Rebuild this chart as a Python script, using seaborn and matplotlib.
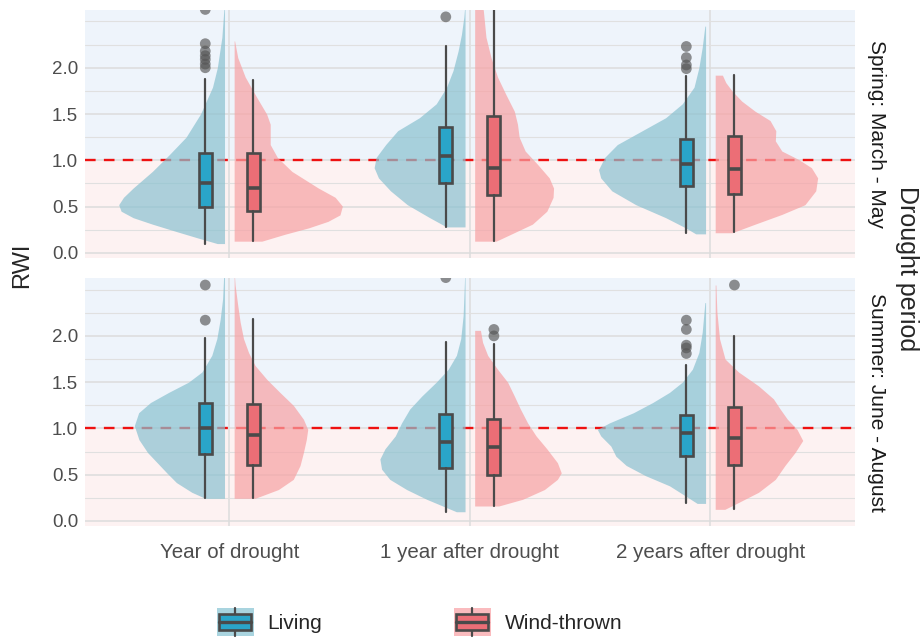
import matplotlib
matplotlib.use("Agg")
import numpy as np
import pandas as pd
import matplotlib.pyplot as plt
from matplotlib.legend_handler import HandlerBase
from matplotlib.patches import Rectangle
from matplotlib.lines import Line2D
import seaborn as sns

# ---- data ----
periods = ["Spring: March - May", "Summer: June - August"]
times = ["Year of drought", "1 year after drought", "2 years after drought"]
statuses = ["Living", "Wind-thrown"]

# box statistics, order: period -> time -> status
whisker_lo = [0.10, 0.13, 0.28, 0.13, 0.21, 0.22,
              0.25, 0.25, 0.10, 0.16, 0.19, 0.13]
q1 = [0.50, 0.45, 0.76, 0.63, 0.72, 0.64,
      0.72, 0.61, 0.57, 0.50, 0.70, 0.61]
median = [0.75, 0.70, 1.05, 0.92, 0.96, 0.91,
          1.01, 0.93, 0.85, 0.80, 0.95, 0.90]
q3 = [1.08, 1.08, 1.36, 1.48, 1.23, 1.26,
      1.27, 1.26, 1.16, 1.10, 1.14, 1.23]
whisker_hi = [1.88, 1.87, 2.23, 2.75, 1.91, 1.92,
              1.98, 2.18, 1.93, 1.91, 1.69, 2.00]
outliers = [[2.00, 2.04, 2.09, 2.13, 2.18, 2.26, 2.63], [],
            [2.55], [],
            [1.99, 2.03, 2.11, 2.23], [],
            [2.17, 2.55], [],
            [2.63], [2.00, 2.07],
            [1.81, 1.87, 1.90, 2.07, 2.17], [2.55]]

# violin outlines (RWI level, half width in category units)
spring_y0_living_rwi = [0.10, 0.16, 0.23, 0.31, 0.38, 0.45, 0.52, 0.60, 0.70, 0.88, 1.06, 1.25, 1.50, 1.79, 2.00, 2.33, 2.62, 2.66]
spring_y0_living_half = [0.03, 0.11, 0.20, 0.30, 0.38, 0.43, 0.44, 0.42, 0.38, 0.30, 0.23, 0.16, 0.10, 0.05, 0.03, 0.011, 0.003, 0.0]
spring_y0_wind_rwi = [0.126, 0.20, 0.27, 0.34, 0.41, 0.505, 0.60, 0.70, 0.88, 1.03, 1.17, 1.28, 1.39, 1.50, 1.68, 1.90, 2.11, 2.29]
spring_y0_wind_half = [0.115, 0.21, 0.31, 0.39, 0.44, 0.45, 0.42, 0.35, 0.24, 0.18, 0.15, 0.15, 0.15, 0.135, 0.094, 0.046, 0.015, 0.002]
spring_y1_living_rwi = [0.28, 0.38, 0.52, 0.67, 0.81, 0.92, 1.03, 1.17, 1.32, 1.46, 1.61, 1.79, 1.97, 2.18, 2.36, 2.55, 2.70]
spring_y1_living_half = [0.077, 0.147, 0.24, 0.31, 0.36, 0.378, 0.37, 0.33, 0.28, 0.19, 0.12, 0.077, 0.05, 0.029, 0.015, 0.005, 0.0]
spring_y1_wind_rwi = [0.126, 0.20, 0.31, 0.45, 0.60, 0.70, 0.81, 0.96, 1.10, 1.25, 1.39, 1.53, 1.71, 1.90, 2.11, 2.33, 2.62, 2.80, 3.00]
spring_y1_wind_half = [0.089, 0.15, 0.24, 0.30, 0.326, 0.328, 0.31, 0.26, 0.21, 0.185, 0.178, 0.165, 0.13, 0.095, 0.068, 0.047, 0.036, 0.02, 0.0]
spring_y2_living_rwi = [0.205, 0.27, 0.38, 0.52, 0.67, 0.81, 0.90, 1.03, 1.17, 1.32, 1.46, 1.61, 1.79, 2.00, 2.22, 2.45]
spring_y2_living_half = [0.041, 0.083, 0.166, 0.29, 0.39, 0.436, 0.445, 0.42, 0.367, 0.263, 0.166, 0.097, 0.048, 0.028, 0.014, 0.003]
spring_y2_wind_rwi = [0.217, 0.31, 0.415, 0.52, 0.67, 0.81, 0.92, 1.01, 1.10, 1.21, 1.32, 1.43, 1.53, 1.64, 1.75, 1.84, 1.92]
spring_y2_wind_half = [0.07, 0.166, 0.277, 0.373, 0.418, 0.426, 0.40, 0.346, 0.277, 0.25, 0.252, 0.228, 0.166, 0.11, 0.07, 0.044, 0.03]
summer_y0_living_rwi = [0.245, 0.31, 0.415, 0.52, 0.63, 0.74, 0.88, 1.03, 1.17, 1.28, 1.39, 1.50, 1.61, 1.79, 1.97, 2.18, 2.40, 2.62, 2.70]
summer_y0_living_half = [0.08, 0.136, 0.20, 0.24, 0.28, 0.32, 0.356, 0.375, 0.357, 0.308, 0.232, 0.15, 0.094, 0.053, 0.032, 0.018, 0.008, 0.004, 0.0]
summer_y0_wind_rwi = [0.245, 0.34, 0.45, 0.60, 0.74, 0.88, 0.99, 1.10, 1.25, 1.39, 1.53, 1.68, 1.82, 1.97, 2.15, 2.33, 2.55, 2.70]
summer_y0_wind_half = [0.087, 0.184, 0.246, 0.274, 0.288, 0.30, 0.306, 0.288, 0.246, 0.19, 0.136, 0.087, 0.06, 0.039, 0.025, 0.015, 0.004, 0.0]
summer_y1_living_rwi = [0.10, 0.16, 0.235, 0.34, 0.45, 0.56, 0.67, 0.78, 0.92, 1.06, 1.21, 1.35, 1.50, 1.64, 1.79, 1.97, 2.22, 2.62, 2.70]
summer_y1_living_half = [0.036, 0.091, 0.16, 0.243, 0.313, 0.347, 0.354, 0.333, 0.29, 0.264, 0.23, 0.18, 0.12, 0.07, 0.036, 0.018, 0.008, 0.002, 0.0]
summer_y1_wind_rwi = [0.162, 0.235, 0.34, 0.45, 0.52, 0.63, 0.78, 0.92, 1.06, 1.21, 1.35, 1.50, 1.64, 1.79, 1.93, 2.06]
summer_y1_wind_half = [0.10, 0.20, 0.29, 0.344, 0.36, 0.344, 0.30, 0.255, 0.22, 0.19, 0.165, 0.137, 0.095, 0.054, 0.033, 0.024]
summer_y2_living_rwi = [0.19, 0.27, 0.38, 0.49, 0.60, 0.70, 0.81, 0.92, 0.99, 1.06, 1.17, 1.28, 1.39, 1.50, 1.64, 1.82, 2.04, 2.36]
summer_y2_living_half = [0.035, 0.083, 0.15, 0.25, 0.33, 0.373, 0.394, 0.436, 0.45, 0.40, 0.30, 0.22, 0.15, 0.097, 0.055, 0.028, 0.014, 0.003]
summer_y2_wind_rwi = [0.126, 0.20, 0.31, 0.45, 0.60, 0.74, 0.87, 0.99, 1.10, 1.21, 1.32, 1.46, 1.61, 1.75, 1.97, 2.26, 2.55]
summer_y2_wind_half = [0.04, 0.097, 0.18, 0.25, 0.29, 0.332, 0.364, 0.34, 0.30, 0.27, 0.242, 0.18, 0.097, 0.041, 0.018, 0.007, 0.003]

violins = [
    (spring_y0_living_rwi, spring_y0_living_half), (spring_y0_wind_rwi, spring_y0_wind_half),
    (spring_y1_living_rwi, spring_y1_living_half), (spring_y1_wind_rwi, spring_y1_wind_half),
    (spring_y2_living_rwi, spring_y2_living_half), (spring_y2_wind_rwi, spring_y2_wind_half),
    (summer_y0_living_rwi, summer_y0_living_half), (summer_y0_wind_rwi, summer_y0_wind_half),
    (summer_y1_living_rwi, summer_y1_living_half), (summer_y1_wind_rwi, summer_y1_wind_half),
    (summer_y2_living_rwi, summer_y2_living_half), (summer_y2_wind_rwi, summer_y2_wind_half),
]

# ---- styling ----
violin_col = {"Living": "#8ac1d0", "Wind-thrown": "#f7a1a3"}
box_col = {"Living": "#2aa5c9", "Wind-thrown": "#ec6e76"}
key_bg = {"Living": "#a9d4df", "Wind-thrown": "#fabbbe"}
edge = "#4a4a4a"
sign = {"Living": -1, "Wind-thrown": 1}

sns.set_theme(style="whitegrid")
plt.rcParams["font.family"] = ["Liberation Sans", "DejaVu Sans"]

# long table of groups
rows = []
k = 0
for p in periods:
    for ti, t in enumerate(times):
        for s in statuses:
            rows.append(dict(period=p, time=t, tpos=ti, status=s, idx=k))
            k += 1
groups = pd.DataFrame(rows)

out_rows = []
for _, g in groups.iterrows():
    for v in outliers[g.idx]:
        out_rows.append(dict(period=g.period, status=g.status,
                             xpos=g.tpos + sign[g.status] * 0.1, rwi=v))
out_df = pd.DataFrame(out_rows)

fig = plt.figure(figsize=(9.24, 6.4), dpi=100)
axes = [fig.add_axes([0.092, 0.597, 0.833, 0.3875]),
        fig.add_axes([0.092, 0.178, 0.833, 0.3875])]

for ax, p in zip(axes, periods):
    ax.set_facecolor("white")
    ax.axhspan(1.0, 5, color="#eef4fb", zorder=0, lw=0)
    ax.axhspan(-1, 1.0, color="#fdf2f2", zorder=0, lw=0)
    ax.axhline(1.0, color="#ee1111", lw=1.7, ls=(0, (4.5, 3.5)), zorder=1)

    sub = groups[groups.period == p]
    stats, pos, faces = [], [], []
    for _, g in sub.iterrows():
        rwi, half = violins[g.idx]
        rwi = np.asarray(rwi)
        half = np.asarray(half)
        if g.status == "Living":
            ax.fill_betweenx(rwi, g.tpos - 0.02 - half, g.tpos - 0.02,
                             color=violin_col[g.status], alpha=0.7, lw=0, zorder=2)
        else:
            ax.fill_betweenx(rwi, g.tpos + 0.02, g.tpos + 0.02 + half,
                             color=violin_col[g.status], alpha=0.7, lw=0, zorder=2)
        stats.append(dict(whislo=whisker_lo[g.idx], q1=q1[g.idx], med=median[g.idx],
                          q3=q3[g.idx], whishi=whisker_hi[g.idx], fliers=[]))
        pos.append(g.tpos + sign[g.status] * 0.1)
        faces.append(box_col[g.status])

    bp = ax.bxp(stats, positions=pos, widths=0.054, patch_artist=True,
                showfliers=False, showcaps=False, manage_ticks=False,
                boxprops=dict(edgecolor=edge, lw=1.9),
                whiskerprops=dict(color=edge, lw=1.6),
                medianprops=dict(color=edge, lw=2.6, solid_capstyle="butt"),
                zorder=3)
    for patch, fc in zip(bp["boxes"], faces):
        patch.set_facecolor(fc)

    sns.scatterplot(data=out_df[out_df.period == p], x="xpos", y="rwi",
                    color="#555555", alpha=0.65, s=60, edgecolor="none",
                    legend=False, ax=ax, zorder=4)

    ax.set_xlim(-0.6, 2.6)
    ax.set_ylim(-0.055, 2.625)
    ax.set_xticks(range(len(times)))
    ax.set_yticks([0, 0.5, 1.0, 1.5, 2.0])
    ax.set_yticks([0.25, 0.75, 1.25, 1.75, 2.25, 2.5], minor=True)
    ax.set_yticklabels(["0.0", "0.5", "1.0", "1.5", "2.0"])
    ax.grid(True, which="major", color="#dcdcdc", lw=1.1)
    ax.grid(True, which="minor", axis="y", color="#e0e0e0", lw=0.8)
    ax.set_axisbelow(True)
    ax.tick_params(axis="y", length=0, labelsize=13.5, labelcolor="#4d4d4d", pad=5)
    ax.tick_params(axis="x", length=0, labelsize=14.8, labelcolor="#4d4d4d", pad=12)
    ax.set_xlabel("")
    ax.set_ylabel("")
    for sp in ax.spines.values():
        sp.set_visible(False)
    ax.text(1.016, 0.5, p, transform=ax.transAxes, rotation=-90,
            ha="left", va="center", fontsize=15, color="#1a1a1a")

axes[0].set_xticklabels([])
axes[1].set_xticklabels(times)

fig.text(0.024, 0.585, "RWI", rotation=90, ha="center", va="center", fontsize=17)
fig.text(0.982, 0.58, "Drought period", rotation=-90, ha="center", va="center", fontsize=18)


class BoxKey(HandlerBase):
    def __init__(self, bg, face):
        super().__init__()
        self.bg = bg
        self.face = face

    def create_artists(self, legend, orig_handle, xdescent, ydescent,
                       width, height, fontsize, trans):
        x0, y0 = -xdescent, -ydescent
        back = Rectangle((x0, y0), width, height, facecolor=self.bg,
                         edgecolor="none", transform=trans)
        cx = x0 + width / 2
        whisk = Line2D([cx, cx], [y0, y0 + height], color=edge, lw=1.6, transform=trans)
        box = Rectangle((x0 + width * 0.07, y0 + height * 0.21), width * 0.86, height * 0.58,
                        facecolor=self.face, edgecolor=edge, lw=1.9, transform=trans)
        med = Line2D([x0 + width * 0.07, x0 + width * 0.93], [y0 + height / 2] * 2,
                     color=edge, lw=2.4, transform=trans)
        return [back, whisk, box, med]


handles = [Rectangle((0, 0), 1, 1) for _ in statuses]
hmap = {h: BoxKey(key_bg[s], box_col[s]) for h, s in zip(handles, statuses)}
fig.legend(handles, statuses, handler_map=hmap, loc="center",
           bbox_to_anchor=(0.454, 0.028), ncol=2, frameon=False,
           fontsize=15, handlelength=1.78, handleheight=1.73,
           handletextpad=0.67, columnspacing=6.3)

fig.savefig("out.png", dpi=100)
